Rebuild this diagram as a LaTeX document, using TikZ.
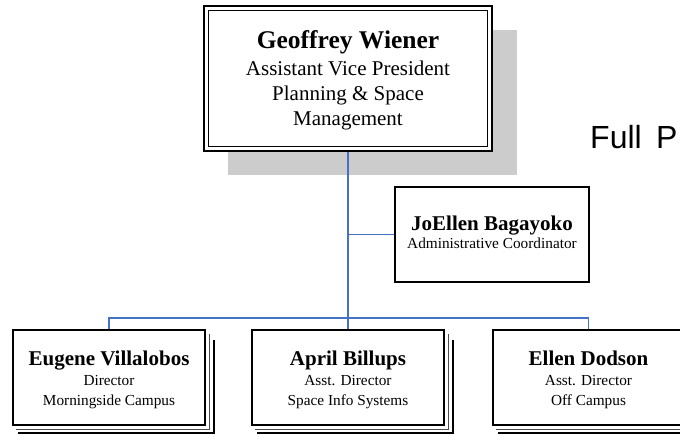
\documentclass[tikz,border=0pt]{standalone}
\usepackage{fontspec}
\setmainfont{Liberation Serif}
\newfontfamily\sansf{Liberation Sans}
\usetikzlibrary{calc,backgrounds}
\definecolor{conncol}{RGB}{68,114,196}
\definecolor{shadowgray}{RGB}{204,204,204}
\begin{document}
\begin{tikzpicture}[x=1pt,y=-1pt,
  conn/.style={draw=conncol,line width=1.5pt},
  topbox/.style={draw=black,fill=white,line width=1.6pt,double=white,double distance=3.2pt,
    minimum width=283.6pt,minimum height=140.6pt,inner sep=0pt,outer sep=0pt},
  jbbox/.style={draw=black,fill=white,line width=1.5pt,minimum width=194pt,minimum height=95pt,
    inner sep=0pt,outer sep=0pt},
  subbox/.style={draw=black,fill=white,line width=2pt,minimum width=192pt,minimum height=95pt,
    inner sep=0pt,outer sep=0pt},
  stackthin/.style={draw=black!70,line width=1pt},
  stackthick/.style={draw=black,line width=2pt},
  txtlbl/.style={anchor=base,inner sep=0pt,outer sep=0pt},
  bignametxt/.style={font=\rmfamily\fontsize{25.5}{30}\selectfont\bfseries},
  bigsubtxt/.style={font=\rmfamily\fontsize{21}{25}\selectfont},
  nametxt/.style={font=\rmfamily\fontsize{21}{25}\selectfont\bfseries},
  subtxt/.style={font=\rmfamily\fontsize{15.3}{18}\selectfont}]
\useasboundingbox (0,0) rectangle (680,434);
\clip (0,0) rectangle (680,434);

% boxes
\node[topbox] (gw) at (348,78.5) {};
\node[jbbox] (jb) at (492,234.5) {};
\node[subbox] (ev) at (109,377.5) {};
\node[subbox] (ap) at (348,377.5) {};
\node[subbox] (ed) at (588.5,377.5) {};

% stacked page lines under the lower boxes
\foreach \b in {ev,ap,ed} {
  \draw[stackthin] ($(\b.north east)+(4,4)$) -- ($(\b.south east)+(4,4)$) -- ($(\b.south west)+(3,4)$);
  \draw[stackthick] ($(\b.north east)+(9,10)$) -- ($(\b.south east)+(9,8)$) -- ($(\b.south west)+(5,8)$);
}

% shadow and connectors behind
\begin{scope}[on background layer]
  \fill[shadowgray] (228,30) rectangle (517,175);
  \coordinate (bus) at (348,318);
  \draw[conn] (gw.south) -- (ap.north);
  \draw[conn] (gw.south |- jb.west) -- (jb.west);
  \draw[conn] (ev.north) |- (bus) -| (ed.north);
\end{scope}

% texts
\node[txtlbl,bignametxt] (gw1) at (348,48) {Geoffrey Wiener};
\node[txtlbl,bigsubtxt] (gw2) at (348,75) {Assistant Vice President};
\node[txtlbl,bigsubtxt] (gw3) at (348,100) {Planning \& Space};
\node[txtlbl,bigsubtxt] (gw4) at (348,125) {Management};

\node[txtlbl,nametxt] (jb1) at (492,230) {JoEllen Bagayoko};
\node[txtlbl,subtxt] (jb2) at (492,248) {Administrative Coordinator};

\node[txtlbl,nametxt] (ev1) at (109,365) {Eugene Villalobos};
\node[txtlbl,subtxt] (ev2) at (109,385) {Director};
\node[txtlbl,subtxt] (ev3) at (109,405) {Morningside Campus};

\node[txtlbl,nametxt] (ap1) at (348,365) {April Billups};
\node[txtlbl,subtxt] (ap2) at (348,385) {Asst. Director};
\node[txtlbl,subtxt] (ap3) at (348,405) {Space Info Systems};

\node[txtlbl,nametxt] (ed1) at (588.5,365) {Ellen Dodson};
\node[txtlbl,subtxt] (ed2) at (588.5,385) {Asst. Director};
\node[txtlbl,subtxt] (ed3) at (588.5,405) {Off Campus};

\node[anchor=base west,inner sep=0pt,font=\sansf\fontsize{32}{38}\selectfont] (fp) at (590,148) {Full\hspace{0.45em}P};
\end{tikzpicture}
\end{document}
